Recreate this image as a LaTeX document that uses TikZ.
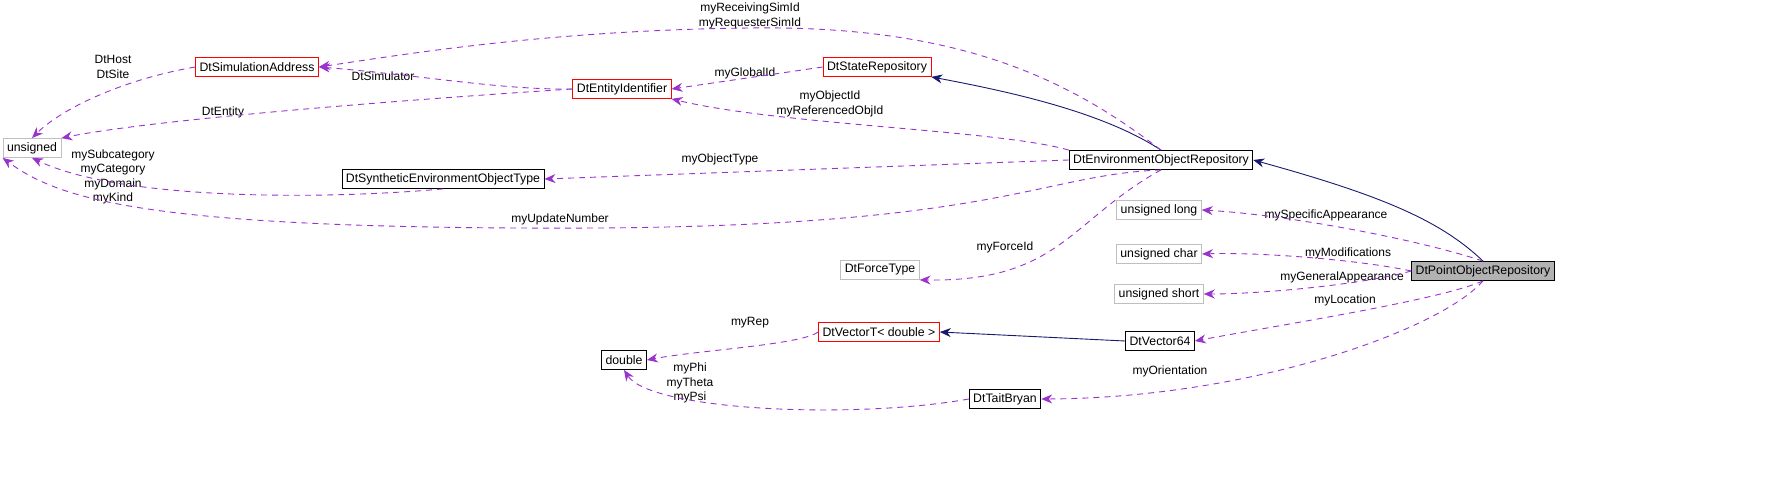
\documentclass[tikz,border=0pt]{standalone}
\usepackage{fontspec}
\setmainfont{Liberation Sans}
\usetikzlibrary{arrows.meta}
\definecolor{usecol}{HTML}{9A32CD}
\definecolor{inhcol}{HTML}{191970}
\tikzset{
  cls/.style={draw=#1, line width=0.8pt, minimum height=19pt, inner xsep=4pt, inner ysep=0pt, font=\fontsize{12.3}{13}\selectfont},
  lbl/.style={align=center, font=\fontsize{12}{14.5}\selectfont, inner sep=0pt},
  use/.style={usecol, dashed, dash pattern=on 6pt off 5pt, line width=0.9pt, -{Stealth[length=11pt,width=9pt]}},
  inh/.style={inhcol, line width=0.9pt, -{Stealth[length=11pt,width=9pt]}},
}
\begin{document}
\begin{tikzpicture}[x=1pt,y=-1pt]
  \useasboundingbox (0,0) rectangle (1789,479);
  % classes
  \node[cls=gray!50] (uns) at (32,148) {unsigned};
  \node[cls=red] (simaddr) at (257,67) {DtSimulationAddress};
  \node[cls=red] (entid) at (622,89) {DtEntityIdentifier};
  \node[cls=red] (staterep) at (877,67) {DtStateRepository};
  \node[cls=black] (envrep) at (1161,160) {DtEnvironmentObjectRepository};
  \node[cls=black] (synth) at (443,179) {DtSyntheticEnvironmentObjectType};
  \node[cls=gray!50] (ulong) at (1159,210) {unsigned long};
  \node[cls=gray!50] (uchar) at (1159,254) {unsigned char};
  \node[cls=gray!50] (force) at (880,270) {DtForceType};
  \node[cls=gray!50] (ushort) at (1159,294) {unsigned short};
  \node[cls=black, fill=gray!60] (pointrep) at (1483,271) {DtPointObjectRepository};
  \node[cls=red] (vect) at (879,332) {DtVectorT< double >};
  \node[cls=black] (vec64) at (1160,341) {DtVector64};
  \node[cls=black] (dbl) at (624,360) {double};
  \node[cls=black] (tait) at (1005,399) {DtTaitBryan};
  % labels
  \node[lbl] (lrecv) at (750,16) {myReceivingSimId\\myRequesterSimId};
  \node[lbl] (lhost) at (113,67) {DtHost\\DtSite};
  \node[lbl] (lsim) at (383,76) {DtSimulator};
  \node[lbl] (lent) at (223,112) {DtEntity};
  \node[lbl] (lglob) at (745,73) {myGlobalId};
  \node[lbl] (lobj) at (830,104) {myObjectId\\myReferencedObjId};
  \node[lbl] (ltype) at (720,159) {myObjectType};
  \node[lbl] (lcat) at (113,177) {mySubcategory\\myCategory\\myDomain\\myKind};
  \node[lbl] (lupd) at (560,219) {myUpdateNumber};
  \node[lbl] (lforce) at (1005,247) {myForceId};
  \node[lbl] (lspec) at (1326,215) {mySpecificAppearance};
  \node[lbl] (lmod) at (1348,253) {myModifications};
  \node[lbl] (lgen) at (1342,277) {myGeneralAppearance};
  \node[lbl] (lloc) at (1345,300) {myLocation};
  \node[lbl] (lorient) at (1170,371) {myOrientation};
  \node[lbl] (lrep) at (750,323) {myRep};
  \node[lbl] (lphi) at (690,383) {myPhi\\myTheta\\myPsi};
  % inheritance
  \draw[inh] (envrep.north) .. controls (1100,110) and (1000,90) .. (staterep.south east);
  \draw[inh] (pointrep.north) .. controls (1440,220) and (1380,195) .. (envrep.east);
  \draw[inh] (vec64.west) -- (vect.east);
  % usage
  \draw[use] (envrep.north) .. controls (1070,80) and (960,25) .. (750,28) .. controls (550,30) and (400,55) .. (simaddr.east);
  \draw[use] (simaddr.west) .. controls (120,80) and (60,110) .. (uns.north);
  \draw[use] (entid.west) .. controls (500,90) and (420,75) .. (simaddr.east);
  \draw[use] (entid.west) .. controls (400,100) and (150,120) .. (uns.north east);
  \draw[use] (staterep.west) -- (entid.east);
  \draw[use] (envrep.north west) .. controls (1000,130) and (780,125) .. (entid.south east);
  \draw[use] (envrep.west) -- (synth.east);
  \draw[use] (synth.south) .. controls (320,200) and (120,200) .. (uns.south);
  \draw[use] (envrep.south) .. controls (1040,175) and (1000,225) .. (600,228) .. controls (150,230) and (60,200) .. (uns.south west);
  \draw[use] (envrep.south) .. controls (1070,220) and (1060,282) .. (force.south east);
  \draw[use] (pointrep.north) .. controls (1420,240) and (1290,215) .. (ulong.east);
  \draw[use] (pointrep.west) .. controls (1360,260) and (1260,252) .. (uchar.east);
  \draw[use] (pointrep.west) .. controls (1360,285) and (1260,294) .. (ushort.east);
  \draw[use] (pointrep.south) .. controls (1440,300) and (1280,325) .. (vec64.east);
  \draw[use] (pointrep.south) .. controls (1440,330) and (1250,398) .. (tait.east);
  \draw[use] (vect.west) .. controls (800,345) and (700,350) .. (dbl.east);
  \draw[use] (tait.west) .. controls (850,420) and (650,410) .. (dbl.south);
\end{tikzpicture}
\end{document}
